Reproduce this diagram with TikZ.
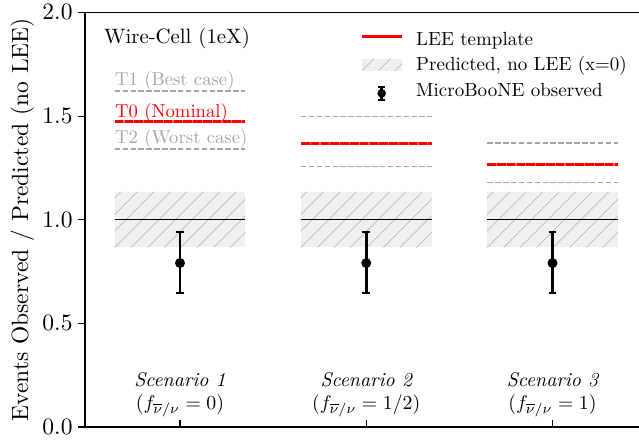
\documentclass[tikz,border=0pt]{standalone}
\usepackage{graphicx}
\definecolor{tgray}{RGB}{165,165,165}
\definecolor{hfillc}{RGB}{240,240,240}
\definecolor{hlinec}{RGB}{185,185,185}
\definecolor{leered}{RGB}{255,0,0}
\begin{document}
\begin{tikzpicture}[x=1pt,y=-1pt,
  spine/.style={line width=1.3pt,line join=miter},
  tickmark/.style={line width=1.1pt},
  tmpl/.style={tgray,line width=1.5pt,dash pattern=on 5.5pt off 2.4pt},
  lee/.style={leered,line width=3pt,dash pattern=on 8.6pt off 1.2pt},
  leebase/.style={leered!60,line width=3pt},
  nominal/.style={black,line width=1pt},
  ebar/.style={line width=2.6pt},
  ebcap/.style={line width=2pt},
  hatchline/.style={hlinec,line width=0.7pt},
  lbl/.style={inner sep=0pt}]
\useasboundingbox (0,0) rectangle (639,440);

% data area: x in pt, y in ratio units (0 at the bottom spine)
\begin{scope}[shift={(0pt,-427pt)},y=207.3pt]
\foreach \xc/\tone/\tzero/\ttwo in
    {180/1.622/1.473/1.340, 366.25/1.497/1.367/1.256, 552.5/1.371/1.265/1.180}{
  \pgfmathsetmacro\xlft{\xc-65.3}
  \pgfmathsetmacro\xrgt{\xc+65.3}
  \fill[hfillc] (\xlft,1.134) rectangle (\xrgt,0.866);
  \begin{scope}
    \clip (\xlft,1.134) rectangle (\xrgt,0.866);
    \foreach \k in {-4,...,9}
      \draw[hatchline] (\xlft+\k*16.5,0.866) -- ++(55.6pt,55.6pt);
  \end{scope}
  \draw[nominal] (\xlft,1) -- (\xrgt,1);
  \draw[tmpl] (\xlft,\tone) -- (\xrgt,\tone);
  \draw[tmpl] (\xlft,\ttwo) -- (\xrgt,\ttwo);
  \draw[leebase] (\xlft,\tzero) -- (\xrgt,\tzero);
  \draw[lee] (\xlft,\tzero) -- (\xrgt,\tzero);
  \draw[ebar] (\xc,0.942) -- (\xc,0.645);
  \draw[ebcap] (\xc-3.8,0.942) -- (\xc+3.8,0.942);
  \draw[ebcap] (\xc-3.8,0.645) -- (\xc+3.8,0.645);
  \fill (\xc,0.791) circle (5pt);
  \draw[tickmark] (\xc,0) -- ++(0pt,7pt);
}
% y ticks and their labels
\foreach \v/\t/\nm in {0/0.0/a,0.5/0.5/b,1/1.0/c,1.5/1.5/d,2/2.0/e}{
  \draw[tickmark] (78,\v) -- (85,\v);
  \node[lbl,anchor=east] (ytick\nm) at (72.7,\v) {\scalebox{2.35}{\t}};
}
\end{scope}

% axes frame
\draw[spine] (639,12.4) -- (85,12.4) -- (85,427) -- (639,427);

\node[lbl,anchor=base,rotate=90] (ylabel) at (28,219.7)
  {\scalebox{2.35}{Events Observed / Predicted (no LEE)}};

% annotations
\node[lbl,anchor=base west] (title) at (104,43.3) {\scalebox{2.08}{Wire-Cell (1eX)}};
\node[lbl,anchor=base west,text=tgray] (tonelbl) at (115,85.3) {\scalebox{1.87}{T1 (Best case)}};
\node[lbl,anchor=base west,text=leered] (tzerolbl) at (115,117.3) {\scalebox{1.87}{T0 (Nominal)}};
\node[lbl,anchor=base west,text=tgray] (ttwolbl) at (115,143.3) {\scalebox{1.87}{T2 (Worst case)}};

% scenario labels
\foreach \xc/\n/\f in {180/1/0, 366.25/2/{1/2}, 552.5/3/1}{
  \node[lbl,anchor=base] (scen\n) at (\xc,386.7) {\scalebox{1.98}{\itshape Scenario \n}};
  \node[lbl,anchor=base] (frac\n) at (\xc,409.5) {\scalebox{1.98}{$(f_{\overline{\nu}/\nu} = \f)$}};
}

% legend
\draw[leered,line width=3pt] (362,36) -- (402,36);
\node[lbl,anchor=base west] (legA) at (416,45) {\scalebox{1.9}{LEE template}};
\fill[hfillc] (362,58.5) rectangle (402,70.7);
\begin{scope}
  \clip (362,58.5) rectangle (402,70.7);
  \foreach \k in {-1,...,3}
    \draw[hatchline] (362+\k*16.5,70.7) -- ++(12.2pt,12.2pt);
\end{scope}
\node[lbl,anchor=base west] (legB) at (416,70.5) {\scalebox{1.9}{Predicted, no LEE (x=0)}};
\draw[ebar] (381.7,86.7) -- (381.7,100);
\draw[ebcap] (378.2,86.7) -- (385.2,86.7);
\draw[ebcap] (378.2,100) -- (385.2,100);
\fill (381.7,93.3) circle (4.3pt);
\node[lbl,anchor=base west] (legC) at (416,96) {\scalebox{1.9}{MicroBooNE observed}};
\end{tikzpicture}
\end{document}
